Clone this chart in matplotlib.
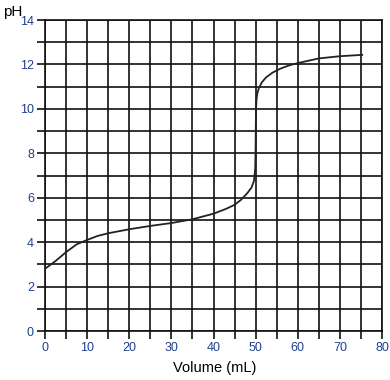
import matplotlib
matplotlib.use("Agg")
import matplotlib.pyplot as plt

plt.rcParams['font.family'] = ['Liberation Sans', 'DejaVu Sans']

volume = [0, 2.5, 5, 7.5, 10, 12.5, 15, 20, 25, 30, 35, 40, 43, 45, 46.5, 48, 49, 49.6, 49.9, 50.0, 50.05, 50.1, 50.2, 50.4, 50.8, 51.5, 52.5, 54, 56, 58, 60, 65, 70, 75.3]
ph = [2.8, 3.15, 3.55, 3.9, 4.1, 4.28, 4.4, 4.58, 4.73, 4.86, 5.03, 5.28, 5.5, 5.68, 5.9, 6.2, 6.45, 6.75, 7.3, 8.3, 9.3, 10.0, 10.4, 10.7, 10.95, 11.2, 11.42, 11.63, 11.82, 11.96, 12.06, 12.27, 12.37, 12.43]

x_ticks = [0, 10, 20, 30, 40, 50, 60, 70, 80]
y_ticks = [0, 2, 4, 6, 8, 10, 12, 14]

fig = plt.figure(figsize=(3.9, 3.8), dpi=100)
ax = fig.add_axes([45/390, 1-331/380, (382-45)/390, (331-20)/380])

ax.plot(volume, ph, color='#222222', lw=1.3, zorder=3)

ax.set_xlim(0, 80)
ax.set_ylim(0, 14)
ax.set_xticks(range(0, 81, 5), minor=True)
ax.set_yticks(range(0, 15, 1), minor=True)
ax.set_xticks(x_ticks)
ax.set_yticks(y_ticks)
ax.set_xticklabels([str(v) for v in x_ticks])
ax.set_yticklabels([str(v) for v in y_ticks])
ax.grid(True, which='both', color='#111111', lw=1.2)
ax.set_axisbelow(True)
for s in ax.spines.values():
    s.set_color('#111111')
    s.set_linewidth(1.2)
ax.tick_params(which='both', direction='out', length=6, width=1.2, color='#111111',
               labelcolor='#1f3f8f', labelsize=9, pad=2)

fig.text(3/390, 1-12/380, 'pH', fontsize=11, va='center', ha='left', color='black')
fig.text(215/390, 1-368/380, 'Volume (mL)', fontsize=10.5, va='center', ha='center', color='black')

fig.savefig('out.png', dpi=100)
